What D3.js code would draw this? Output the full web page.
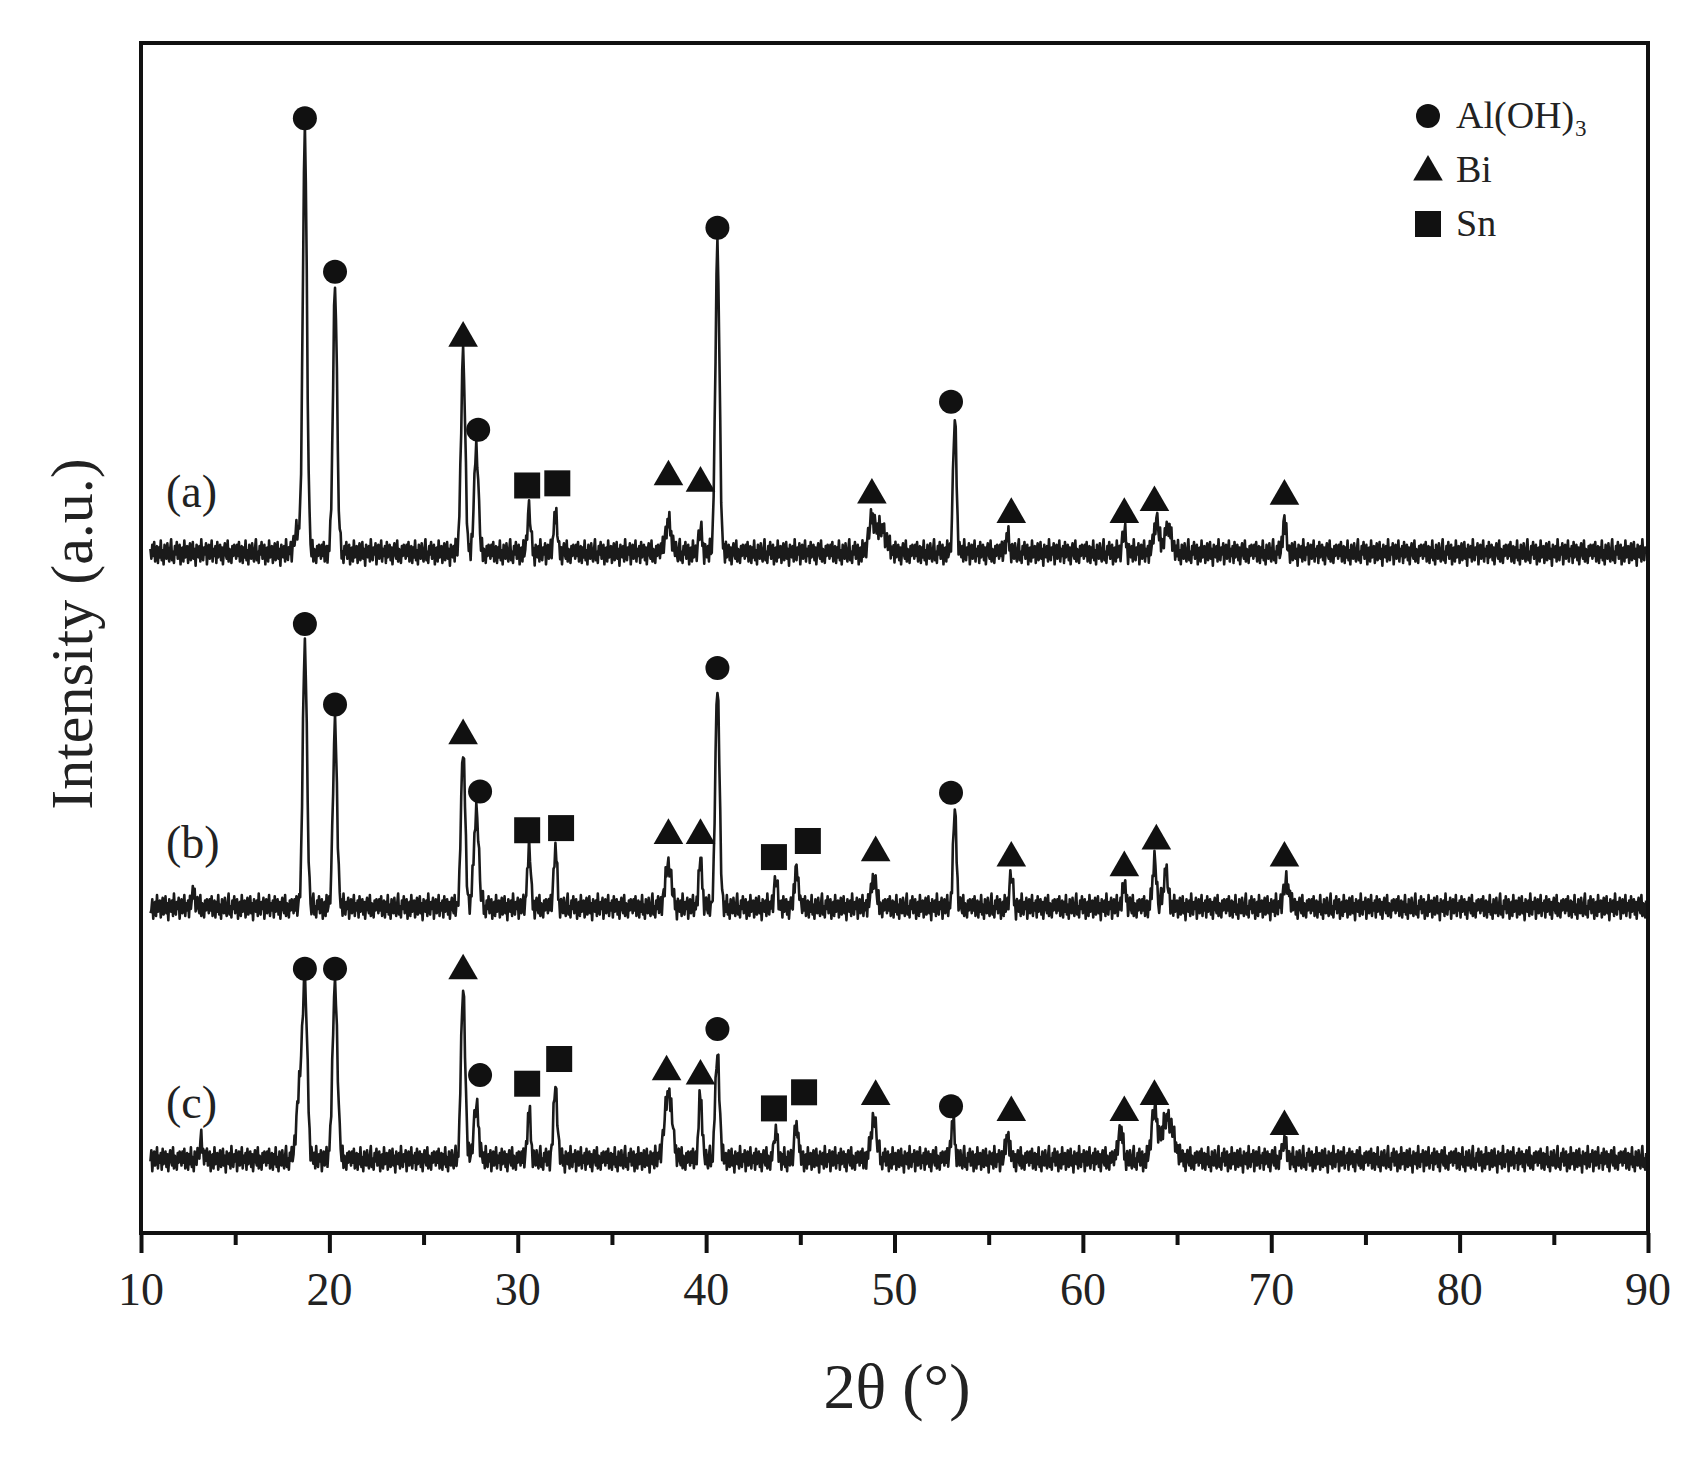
<!DOCTYPE html>
<html>
<head>
<meta charset="utf-8">
<script src="https://cdn.jsdelivr.net/npm/d3@7"></script>
<style>
  body { margin: 0; background: #fff; }
  text { font-family: "Liberation Serif", "DejaVu Serif", serif; fill: #222; }
</style>
</head>
<body>
<svg id="chart"></svg>
<script>
// peaks: [2theta, height, width]
const peaksA = [[18.3,20,0.15],[18.7,390,0.11],[20.3,247,0.11],[27.1,185,0.11],[27.8,100,0.11],[30.6,40,0.09],[32.0,37,0.09],
  [38.0,28,0.16],[39.7,22,0.09],[40.6,285,0.11],[48.8,30,0.16],[49.3,22,0.25],[53.2,125,0.09],[56.0,15,0.1],
  [62.2,20,0.09],[63.9,30,0.13],[64.5,22,0.2],[70.7,30,0.09]];
const peaksB = [[12.8,15,0.08],[18.7,248,0.11],[20.3,170,0.11],[27.1,145,0.11],[27.8,90,0.13],[30.6,55,0.09],[32.0,55,0.09],
  [38.0,40,0.16],[39.7,45,0.09],[40.6,205,0.11],[43.7,25,0.09],[44.8,40,0.09],[48.9,28,0.13],[53.2,90,0.09],
  [56.2,30,0.09],[62.2,20,0.1],[63.8,45,0.1],[64.4,32,0.13],[70.8,22,0.15]];
const peaksC = [[13.2,15,0.1],[18.4,60,0.15],[18.7,160,0.13],[20.3,162,0.13],[27.1,160,0.11],[27.8,50,0.13],[30.6,45,0.09],[32.0,68,0.1],
  [38.0,62,0.2],[39.7,62,0.09],[40.6,100,0.11],[43.7,25,0.09],[44.8,35,0.09],[48.9,38,0.15],[53.1,35,0.1],
  [56.0,22,0.1],[62.0,28,0.12],[63.8,45,0.15],[64.5,38,0.3],[70.7,15,0.12]];
const baselines = [633, 303, 68];
const seriesLabels = ["(a)", "(b)", "(c)"];
const labelY = [676, 349, 107];

// hand-read noise wiggle of the baseline
const noise = [3,-4,6,-2,8,-6,1,5,-7,4,-3,9,-5,2,-8,6,0,-4,7,-2,-6,3,10,-5,1,-7,5,-1,8,-4,
  -2,6,-8,3,4,-6,9,-3,0,5,-7,2,7,-5,-1,8,-4,3,-9,6,1,-3,5,-6,10,-2,-5,4,-1,7,
  -8,2,6,-4,0,9,-6,3,-2,5,-7,8,-3,1,6,-5,4,-8,2,7,-1,-4,9,-6,3,0,-7,5,-2,6];

// markers: [2theta, value, type]  type: c=Al(OH)3, t=Bi, s=Sn
const markersA = [[18.7,1038,"c"],[20.3,895,"c"],[27.1,835,"t"],[27.9,748,"c"],[30.5,696,"s"],[32.1,698,"s"],
  [38.0,706,"t"],[39.7,700,"t"],[40.6,936,"c"],[48.8,689,"t"],[53.0,774,"c"],[56.2,671,"t"],[62.2,671,"t"],[63.8,682,"t"],[70.7,688,"t"]];
const markersB = [[18.7,567,"c"],[20.3,492,"c"],[27.1,465,"t"],[28.0,411,"c"],[30.5,375,"s"],[32.3,377,"s"],
  [38.0,372,"t"],[39.7,372,"t"],[40.6,526,"c"],[43.6,350,"s"],[45.4,365,"s"],[49.0,356,"t"],[53.0,410,"c"],
  [56.2,351,"t"],[62.2,342,"t"],[63.9,367,"t"],[70.7,351,"t"]];
const markersC = [[18.7,246,"c"],[20.3,246,"c"],[27.1,246,"t"],[28.0,147,"c"],[30.5,139,"s"],[32.2,162,"s"],
  [37.9,152,"t"],[39.7,148,"t"],[40.6,190,"c"],[43.6,116,"s"],[45.2,131,"s"],[49.0,129,"t"],[53.0,118,"c"],
  [56.2,114,"t"],[62.2,114,"t"],[63.8,129,"t"],[70.7,101,"t"]];

const xTicks = [10,20,30,40,50,60,70,80,90];
const legendItems = [["c","Al(OH)₃"],["t","Bi"],["s","Sn"]];

const W = 1697, H = 1460;
const svg = d3.select("#chart").attr("width", W).attr("height", H);
const x = d3.scaleLinear().domain([10, 90]).range([141, 1648]);
const y = d3.scaleLinear().domain([0, 1108]).range([1233, 43]);

function trace(peaks, base, off) {
  let pts = [];
  for (let i = 0; i <= 1600; i++) {
    let t = 10.5 + i * 0.05;
    if (t > 89.9) break;
    let v = base + noise[(i + off) % noise.length] * 1.3;
    peaks.forEach(p => { v += p[1] * Math.exp(-0.5 * Math.pow((t - p[0]) / p[2], 2)); });
    pts.push([t, v]);
  }
  return pts;
}

const line = d3.line().x(d => x(d[0])).y(d => y(d[1]));
[peaksA, peaksB, peaksC].forEach((pk, k) => {
  svg.append("path")
    .attr("d", line(trace(pk, baselines[k], k * 29)))
    .attr("fill", "none")
    .attr("stroke", "#1a1a1a")
    .attr("stroke-width", 2.6)
    .attr("stroke-linejoin", "round");
});

function drawMarker(g, type, cx, cy) {
  if (type == "c") g.append("circle").attr("cx", cx).attr("cy", cy).attr("r", 12).attr("fill", "#111");
  else if (type == "t") g.append("path").attr("d", d3.symbol(d3.symbolTriangle, 380)()).attr("transform", "translate(" + cx + "," + (cy + 2) + ")").attr("fill", "#111");
  else g.append("rect").attr("x", cx - 13).attr("y", cy - 13).attr("width", 26).attr("height", 26).attr("fill", "#111");
}

const mg = svg.append("g");
[markersA, markersB, markersC].forEach(ms => ms.forEach(m => drawMarker(mg, m[2], x(m[0]), y(m[1]))));

seriesLabels.forEach((l, k) => {
  svg.append("text").attr("x", 166).attr("y", y(labelY[k])).attr("font-size", "46px").text(l);
});

// frame
svg.append("rect").attr("x", 141).attr("y", 43).attr("width", 1648 - 141).attr("height", 1233 - 43)
  .attr("fill", "none").attr("stroke", "#111").attr("stroke-width", 4);

// x axis
const axis = svg.append("g").attr("transform", "translate(0,1233)")
  .call(d3.axisBottom(x).tickValues(d3.range(10, 91, 5)).tickSize(13).tickFormat(""));
axis.select(".domain").remove();
axis.selectAll("line").attr("stroke", "#111").attr("stroke-width", 4)
  .attr("y2", d => d % 10 == 0 ? 20 : 12);
xTicks.forEach(t => {
  svg.append("text").attr("x", x(t)).attr("y", 1305).attr("text-anchor", "middle")
    .attr("font-size", "46px").text(t);
});

svg.append("text").attr("x", 897).attr("y", 1408).attr("text-anchor", "middle")
  .attr("font-size", "64px").text("2θ (°)");
svg.append("text").attr("transform", "translate(92,634) rotate(-90)").attr("text-anchor", "middle")
  .attr("font-size", "60px").text("Intensity (a.u.)");

// legend
legendItems.forEach((it, i) => {
  let ly = 116 + i * 54;
  drawMarker(svg, it[0], 1428, ly);
  svg.append("text").attr("x", 1456).attr("y", ly + 12).attr("font-size", "38px").text(it[1]);
});
</script>
</body>
</html>
